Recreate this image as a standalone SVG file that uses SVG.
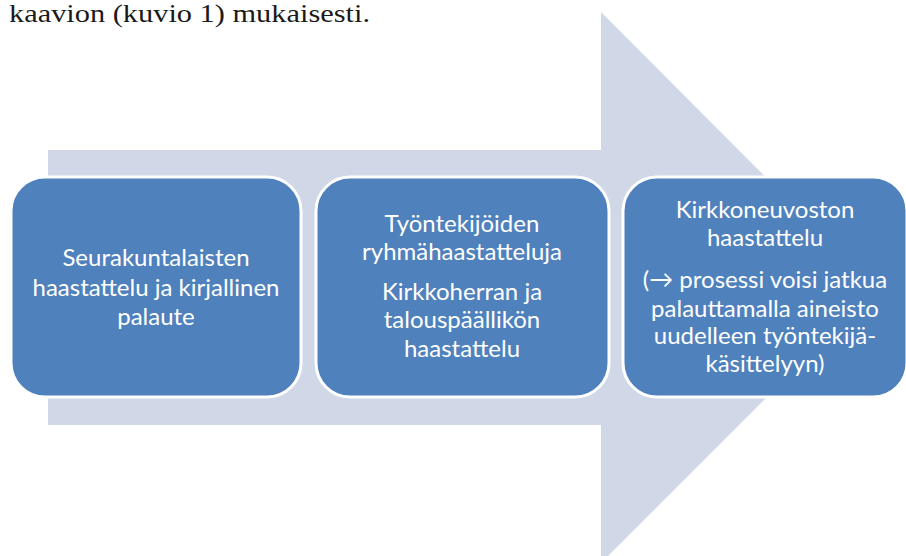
<svg xmlns="http://www.w3.org/2000/svg" width="906" height="556" viewBox="0 0 906 556">
<style>
.box{fill:#4f81bd;stroke:#ffffff;stroke-width:3}
.t{font-family:Lato,"Liberation Sans",sans-serif;font-size:24px;fill:#ffffff;text-anchor:middle}
.cap{font-family:"Liberation Serif",serif;font-size:25px;fill:#1a1a1a}
</style>
<rect width="906" height="556" fill="#ffffff"/>
<text class="cap" x="9" y="22" textLength="361" lengthAdjust="spacingAndGlyphs">kaavion (kuvio 1) mukaisesti.</text>
<g id="arrow">
<polygon points="48,150 601,150 601,12 876,288 601,563 601,425 48,425" fill="#d0d8e8"/>
</g>
<g id="connectors"></g>
<g id="node1">
<rect class="box" x="11" y="177" width="290" height="220" rx="34"/>
<text class="t" x="156" y="266">Seurakuntalaisten</text>
<text class="t" x="156" y="296">haastattelu ja kirjallinen</text>
<text class="t" x="156" y="325">palaute</text>
</g>
<g id="node2">
<rect class="box" x="316" y="177" width="293" height="220" rx="34"/>
<text class="t" x="462" y="232">Työntekijöiden</text>
<text class="t" x="462" y="260">ryhmähaastatteluja</text>
<text class="t" x="462" y="300">Kirkkoherran ja</text>
<text class="t" x="462" y="328">talouspäällikön</text>
<text class="t" x="462" y="357">haastattelu</text>
</g>
<g id="node3">
<rect class="box" x="623" y="177" width="284" height="220" rx="34"/>
<text class="t" x="765" y="218">Kirkkoneuvoston</text>
<text class="t" x="765" y="246">haastattelu</text>
<text class="t" x="765" y="288">(→ prosessi voisi jatkua</text>
<text class="t" x="765" y="317">palauttamalla aineisto</text>
<text class="t" x="765" y="344">uudelleen työntekijä-</text>
<text class="t" x="765" y="372">käsittelyyn)</text>
</g>
</svg>
